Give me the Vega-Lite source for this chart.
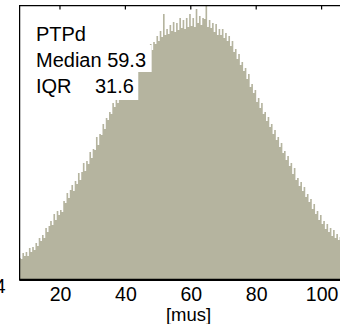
{
  "$schema": "https://vega.github.io/schema/vega-lite/v6.json",
  "width": 334,
  "height": 275,
  "autosize": {"type": "none"},
  "padding": {"left": 19, "top": 5, "right": 0, "bottom": 44},
  "config": {
    "view": {"stroke": "black", "strokeWidth": 1},
    "font": "Liberation Sans",
    "axis": {"domain": false, "labelColor": "black", "titleColor": "black", "grid": false}
  },
  "layer": [
    {
      "data": {"values": [
        {"b":7.5,"c":22},{"b":8,"c":21},{"b":8.5,"c":27},{"b":9,"c":24},{"b":9.5,"c":28},{"b":10,"c":24},
        {"b":10.5,"c":32},{"b":11,"c":28},{"b":11.5,"c":33},{"b":12,"c":30},{"b":12.5,"c":37},{"b":13,"c":34},
        {"b":13.5,"c":42},{"b":14,"c":39},{"b":14.5,"c":45},{"b":15,"c":42},{"b":15.5,"c":52},{"b":16,"c":48},
        {"b":16.5,"c":54},{"b":17,"c":59},{"b":17.5,"c":55},{"b":18,"c":66},{"b":18.5,"c":60},{"b":19,"c":69},
        {"b":19.5,"c":65},{"b":20,"c":70},{"b":20.5,"c":68},{"b":21,"c":79},{"b":21.5,"c":77},{"b":22,"c":87},
        {"b":22.5,"c":82},{"b":23,"c":90},{"b":23.5,"c":95},{"b":24,"c":89},{"b":24.5,"c":99},{"b":25,"c":96},
        {"b":25.5,"c":107},{"b":26,"c":100},{"b":26.5,"c":108},{"b":27,"c":117},{"b":27.5,"c":109},{"b":28,"c":119},
        {"b":28.5,"c":116},{"b":29,"c":128},{"b":29.5,"c":122},{"b":30,"c":131},{"b":30.5,"c":130},{"b":31,"c":143},
        {"b":31.5,"c":135},{"b":32,"c":146},{"b":32.5,"c":145},{"b":33,"c":156},{"b":33.5,"c":151},{"b":34,"c":162},
        {"b":34.5,"c":160},{"b":35,"c":168},{"b":35.5,"c":166},{"b":36,"c":177},{"b":36.5,"c":173},{"b":37,"c":182},
        {"b":37.5,"c":177},{"b":38,"c":189},{"b":38.5,"c":184},{"b":39,"c":191},{"b":39.5,"c":187},{"b":40,"c":198},
        {"b":40.5,"c":194},{"b":41,"c":202},{"b":41.5,"c":198},{"b":42,"c":206},{"b":42.5,"c":204},{"b":43,"c":213},
        {"b":43.5,"c":208},{"b":44,"c":217},{"b":44.5,"c":215},{"b":45,"c":224},{"b":45.5,"c":218},{"b":46,"c":227},
        {"b":46.5,"c":235},{"b":47,"c":226},{"b":47.5,"c":236},{"b":48,"c":230},{"b":48.5,"c":238},{"b":49,"c":236},
        {"b":49.5,"c":244},{"b":50,"c":239},{"b":50.5,"c":249},{"b":51,"c":243},{"b":51.5,"c":266},{"b":52,"c":245},
        {"b":52.5,"c":251},{"b":53,"c":246},{"b":53.5,"c":255},{"b":54,"c":249},{"b":54.5,"c":258},{"b":55,"c":248},
        {"b":55.5,"c":257},{"b":56,"c":250},{"b":56.5,"c":262},{"b":57,"c":252},{"b":57.5,"c":260},{"b":58,"c":251},
        {"b":58.5,"c":262},{"b":59,"c":253},{"b":59.5,"c":266},{"b":60,"c":254},{"b":60.5,"c":262},{"b":61,"c":253},
        {"b":61.5,"c":271},{"b":62,"c":257},{"b":62.5,"c":264},{"b":63,"c":255},{"b":63.5,"c":262},{"b":64,"c":261},
        {"b":64.5,"c":275},{"b":65,"c":253},{"b":65.5,"c":260},{"b":66,"c":252},{"b":66.5,"c":257},{"b":67,"c":248},
        {"b":67.5,"c":256},{"b":68,"c":245},{"b":68.5,"c":251},{"b":69,"c":245},{"b":69.5,"c":251},{"b":70,"c":242},
        {"b":70.5,"c":247},{"b":71,"c":239},{"b":71.5,"c":244},{"b":72,"c":234},{"b":72.5,"c":239},{"b":73,"c":228},
        {"b":73.5,"c":231},{"b":74,"c":221},{"b":74.5,"c":226},{"b":75,"c":215},{"b":75.5,"c":218},{"b":76,"c":209},
        {"b":76.5,"c":212},{"b":77,"c":201},{"b":77.5,"c":206},{"b":78,"c":193},{"b":78.5,"c":196},{"b":79,"c":187},
        {"b":79.5,"c":190},{"b":80,"c":178},{"b":80.5,"c":182},{"b":81,"c":172},{"b":81.5,"c":177},{"b":82,"c":166},
        {"b":82.5,"c":168},{"b":83,"c":159},{"b":83.5,"c":163},{"b":84,"c":153},{"b":84.5,"c":156},{"b":85,"c":146},
        {"b":85.5,"c":150},{"b":86,"c":140},{"b":86.5,"c":143},{"b":87,"c":133},{"b":87.5,"c":137},{"b":88,"c":127},
        {"b":88.5,"c":129},{"b":89,"c":120},{"b":89.5,"c":124},{"b":90,"c":114},{"b":90.5,"c":117},{"b":91,"c":106},
        {"b":91.5,"c":112},{"b":92,"c":100},{"b":92.5,"c":102},{"b":93,"c":94},{"b":93.5,"c":98},{"b":94,"c":89},
        {"b":94.5,"c":93},{"b":95,"c":83},{"b":95.5,"c":86},{"b":96,"c":78},{"b":96.5,"c":81},{"b":97,"c":71},
        {"b":97.5,"c":76},{"b":98,"c":66},{"b":98.5,"c":69},{"b":99,"c":60},{"b":99.5,"c":65},{"b":100,"c":56},
        {"b":100.5,"c":59},{"b":101,"c":51},{"b":101.5,"c":56},{"b":102,"c":48},{"b":102.5,"c":52},{"b":103,"c":44},
        {"b":103.5,"c":50},{"b":104,"c":42},{"b":104.5,"c":46},{"b":105,"c":40},{"b":105.5,"c":43},{"b":106,"c":37},
        {"b":106.5,"c":40},{"b":107,"c":35},{"b":107.5,"c":38},{"b":108,"c":34},{"b":108.5,"c":36},{"b":109,"c":32},
        {"b":109.5,"c":32}
      ]},
      "mark": {"type": "area", "interpolate": "step-after", "color": "#b5b49f", "clip": true},
      "encoding": {
        "x": {
          "field": "b", "type": "quantitative",
          "scale": {"domain": [7.47, 109.6], "nice": false, "zero": false, "padding": 0},
          "axis": {"orient": "bottom", "values": [20, 40, 60, 80, 100], "ticks": false, "labelFontSize": 19.5, "labelPadding": 5, "title": "[mus]", "titleFontSize": 18.5, "titleFontWeight": "normal", "titleBaseline": "alphabetic", "titleY": 40, "titleX": 169, "labelFlush": false}
        },
        "y": {
          "field": "c", "type": "quantitative",
          "scale": {"domain": [0, 275], "nice": false, "padding": 0},
          "axis": {"orient": "left", "values": [0], "labelExpr": "'4'", "ticks": false, "labelFontSize": 19.5, "labelPadding": 14, "labelOffset": 6, "title": null}
        }
      }
    },
    {
      "data": {"values": [{}]},
      "mark": {"type": "rect", "color": "black"},
      "encoding": {
        "x": {"datum": 7.47, "type": "quantitative"},
        "x2": {"datum": 109.6},
        "y": {"datum": 273.8, "type": "quantitative"},
        "y2": {"datum": 275}
      }
    },
    {
      "data": {"values": [{}]},
      "mark": {"type": "rect", "color": "black"},
      "encoding": {
        "x": {"datum": 7.47, "type": "quantitative"},
        "x2": {"datum": 109.6},
        "y": {"datum": 0, "type": "quantitative"},
        "y2": {"datum": 1.2}
      }
    },
    {
      "data": {"values": [{}]},
      "mark": {"type": "rect", "color": "black"},
      "encoding": {
        "x": {"datum": 7.47, "type": "quantitative"},
        "x2": {"datum": 7.85},
        "y": {"datum": 0, "type": "quantitative"},
        "y2": {"datum": 275}
      }
    },
    {
      "data": {"values": [{"t": 20}, {"t": 40}, {"t": 60}, {"t": 80}, {"t": 100}]},
      "mark": {"type": "rule", "color": "black", "strokeWidth": 1.2},
      "encoding": {
        "x": {"field": "t", "type": "quantitative"},
        "y": {"datum": 270.5, "type": "quantitative"},
        "y2": {"datum": 275}
      }
    },
    {
      "data": {"values": [{}]},
      "mark": {"type": "rect", "color": "white"},
      "encoding": {
        "x": {"datum": 10.8, "type": "quantitative"},
        "x2": {"datum": 48.03},
        "y": {"datum": 208, "type": "quantitative"},
        "y2": {"datum": 235}
      }
    },
    {
      "data": {"values": [{}]},
      "mark": {"type": "rect", "color": "white"},
      "encoding": {
        "x": {"datum": 10.8, "type": "quantitative"},
        "x2": {"datum": 43.94},
        "y": {"datum": 180, "type": "quantitative"},
        "y2": {"datum": 208}
      }
    },
    {
      "data": {"values": [{}]},
      "mark": {"type": "text", "text": "PTPd", "align": "left", "baseline": "alphabetic", "fontSize": 20, "color": "black"},
      "encoding": {
        "x": {"datum": 12.66, "type": "quantitative"},
        "y": {"datum": 239, "type": "quantitative"}
      }
    },
    {
      "data": {"values": [{}]},
      "mark": {"type": "text", "text": "Median 59.3", "align": "left", "baseline": "alphabetic", "fontSize": 20, "color": "black"},
      "encoding": {
        "x": {"datum": 12.66, "type": "quantitative"},
        "y": {"datum": 213, "type": "quantitative"}
      }
    },
    {
      "data": {"values": [{}]},
      "mark": {"type": "text", "text": "IQR", "align": "left", "baseline": "alphabetic", "fontSize": 20, "color": "black"},
      "encoding": {
        "x": {"datum": 12.66, "type": "quantitative"},
        "y": {"datum": 187, "type": "quantitative"}
      }
    },
    {
      "data": {"values": [{}]},
      "mark": {"type": "text", "text": "31.6", "align": "left", "baseline": "alphabetic", "fontSize": 20, "color": "black"},
      "encoding": {
        "x": {"datum": 30.7, "type": "quantitative"},
        "y": {"datum": 187, "type": "quantitative"}
      }
    }
  ]
}
